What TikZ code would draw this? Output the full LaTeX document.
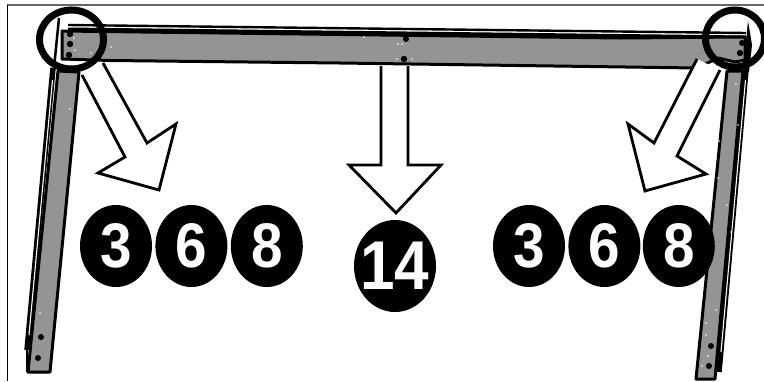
\documentclass[tikz,border=0pt]{standalone}
\usepackage{fontspec}
\setmainfont[FakeStretch=0.9]{Liberation Sans}
\usetikzlibrary{positioning,shapes.geometric}

\tikzset{
    steel/.style={fill=black!42,draw=black,line width=3pt,line join=round},
    flange/.style={draw=black,line width=5.5pt},
    slit/.style={draw=white,line width=1.1pt},
    blockarrow/.style={fill=white,draw=black,line width=2.8pt,line join=miter},
    ring/.style={draw=black,line width=7pt},
    balloon/.style={ellipse,fill=black,text=white,inner sep=0,minimum width=72pt,
        minimum height=82pt,font=\bfseries\fontsize{63}{63}\selectfont},
    bigballoon/.style={balloon,minimum width=82pt,minimum height=92pt,
        font=\bfseries\fontsize{69}{69}\selectfont},
    hole/.style={fill=black},
    speck/.style={fill=white}
}

\begin{document}
\begin{tikzpicture}[x=1pt,y=-1pt]
\useasboundingbox (0,0) rectangle (764,381);
% frame
\draw[black!60,line width=2pt] (7,5) -- (764,5);
\draw[black,line width=1.2pt] (7.5,5) -- (7.5,381);
% cross beam
\draw[line width=2.4pt] (68,25) -- (746,33);
\fill[black] (68,27.5) -- (746,35.5) -- (746,39) -- (68,31) -- cycle;
\draw[steel] (62,31) -- (620,38) -- (745,37) -- (745,60) -- (735,62)
    -- (718,58) -- (697,68) -- (340,63) -- (110,60.5) -- (62,59) -- cycle;
% left leg
\draw[steel] (58,71) -- (79,72) -- (50,372) -- (28,372) -- cycle;
\draw[flange] (53,68) -- (27,350);
\draw[slit] (52.5,80) -- (29,335);
\draw[black,line width=2.5pt] (59,18) -- (54,68);
\draw[black,line width=2.2pt] (27,350) -- (27,372);
% right leg
\draw[steel] (727,71) -- (743,71) -- (715,379) -- (696,379) -- cycle;
\draw[flange] (746,70) -- (719,372);
\draw[slit] (745.5,80) -- (721,352);
\fill[black] (748,21) -- (752,45) -- (749,72) -- (743,72) -- cycle;
% holes
\foreach \hx/\hy/\hr in {70/34/3.2,70/44/3.2,69/55/3.2,742/43/3,740/53/3.2,406/39/3,404/59/3.2,
    41/337/3,38/358/3,711/346/3,709/366/3}
    \fill[hole] (\hx,\hy) circle (\hr);
\foreach \sx/\sy in {74/38,75/50,91/53,111/47,364/37,398/44,402/44,397/59,412/59,70/109,40/313,
    716/310,706/323,706/335,708/356,702/366,736/84,727/205,719/141,731/232,738/125,718/178}
    \fill[speck] (\sx,\sy) circle (0.9);
% arrows
\draw[blockarrow] (82,75) -- (125,157) -- (98,173) -- (159,190) -- (176,124) -- (147,143) -- (103,63);
\draw[blockarrow] (381,66) -- (381,165) -- (349,165) -- (396,213) -- (441,165) -- (408,165) -- (408,66);
\draw[blockarrow] (720,70) -- (677,156) -- (706,174) -- (645,191) -- (628,124) -- (654,143) -- (697,59);
% circles on the corners
\draw[ring] (71.5,39.5) ellipse (32 and 29.5);
\draw[ring] (735,38.5) ellipse (29.5 and 28.5);
% part numbers
\node[balloon] (leftthree) at (116,246) {\makebox[0pt]{3}};
\node[balloon,right=3pt of leftthree] (leftsix) {\makebox[0pt]{6}};
\node[balloon,right=3pt of leftsix] (lefteight) {\makebox[0pt]{8}};
\node[bigballoon] (middle) at (395,266) {\makebox[0pt]{14}};
\node[balloon] (rightthree) at (529,246) {\makebox[0pt]{3}};
\node[balloon,right=3pt of rightthree] (rightsix) {\makebox[0pt]{6}};
\node[balloon,right=2pt of rightsix] (righteight) {\makebox[0pt]{8}};
\end{tikzpicture}
\end{document}
